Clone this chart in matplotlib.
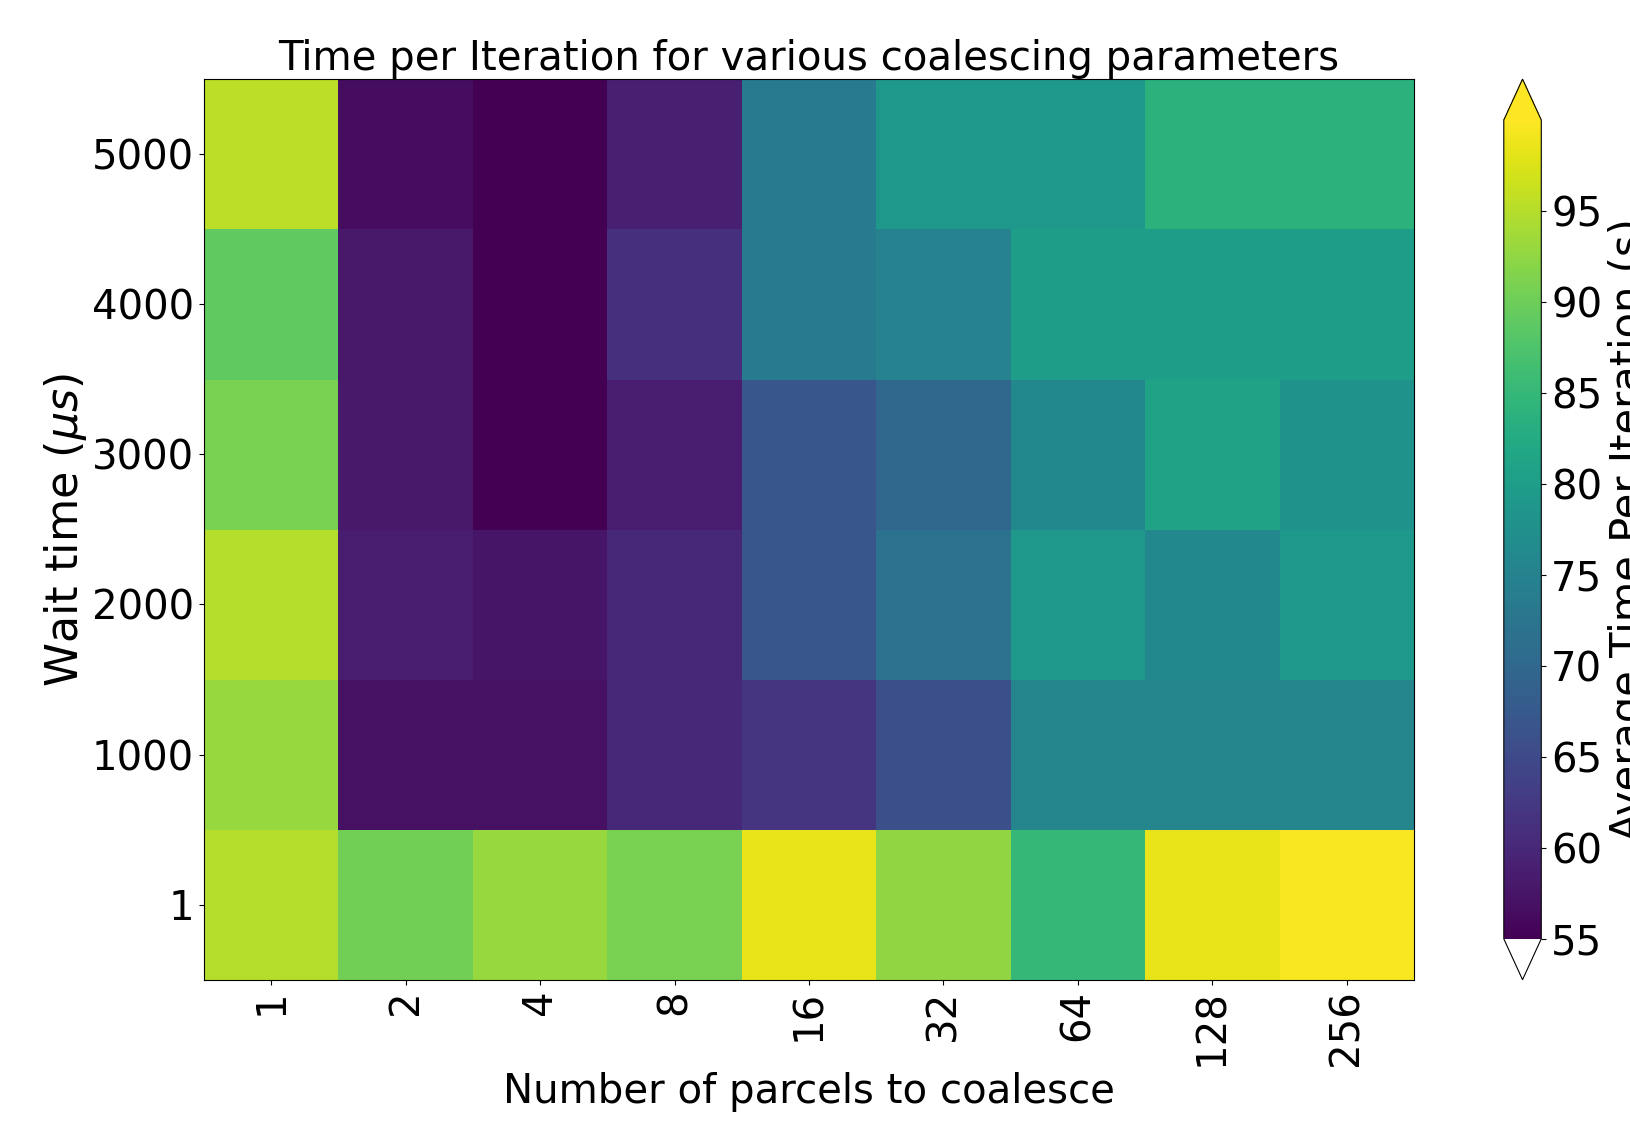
import numpy as np
import matplotlib
matplotlib.use("Agg")
import matplotlib.pyplot as plt

# Heatmap of time per iteration

parcels = ["1", "2", "4", "8", "16", "32", "64", "128", "256"]
wait_times = ["1", "1000", "2000", "3000", "4000", "5000"]

# rows go bottom to top: 1, 1000, 2000, 3000, 4000, 5000
row_1 = [95.0, 90.5, 93.0, 91.0, 98.5, 92.5, 85.0, 98.5, 99.5]
row_1000 = [93.0, 57.0, 57.0, 60.0, 62.0, 66.0, 75.5, 75.5, 75.5]
row_2000 = [95.0, 58.5, 57.5, 60.0, 67.0, 72.0, 79.0, 76.0, 79.0]
row_3000 = [91.0, 58.0, 55.0, 58.5, 67.0, 70.0, 76.0, 81.0, 78.0]
row_4000 = [89.0, 58.0, 55.0, 61.0, 73.5, 75.0, 80.0, 80.0, 80.0]
row_5000 = [95.5, 56.5, 55.0, 59.0, 73.5, 79.0, 79.0, 84.0, 84.0]

data = np.array([row_1, row_1000, row_2000, row_3000, row_4000, row_5000])

cmap = plt.get_cmap("viridis").copy()
cmap.set_under("white")

fig = plt.figure(figsize=(16.31, 11.30), dpi=100)
ax = fig.add_axes([0.125, 0.133, 0.742, 0.797])
cax = fig.add_axes([0.922, 0.133, 0.023, 0.797])

im = ax.imshow(data, cmap=cmap, vmin=55, vmax=100, origin="lower", aspect="auto")

ax.set_xticks(range(len(parcels)))
ax.set_xticklabels(parcels, rotation=90, fontsize=29)
ax.set_yticks(range(len(wait_times)))
ax.set_yticklabels(wait_times, fontsize=29)

ax.set_title("Time per Iteration for various coalescing parameters", fontsize=29)
ax.set_xlabel("Number of parcels to coalesce", fontsize=29)
ax.set_ylabel(r"Wait time ($\mu s$)", fontsize=32, labelpad=2)

cbar = fig.colorbar(im, cax=cax, extend="both", extendfrac=0.05)
cbar.set_ticks([55, 60, 65, 70, 75, 80, 85, 90, 95])
cbar.ax.tick_params(labelsize=29)
# label runs off the right edge, same as the original
cbar.set_label("Average Time Per Iteration (s)", fontsize=30)

fig.savefig("out.png", dpi=100)
